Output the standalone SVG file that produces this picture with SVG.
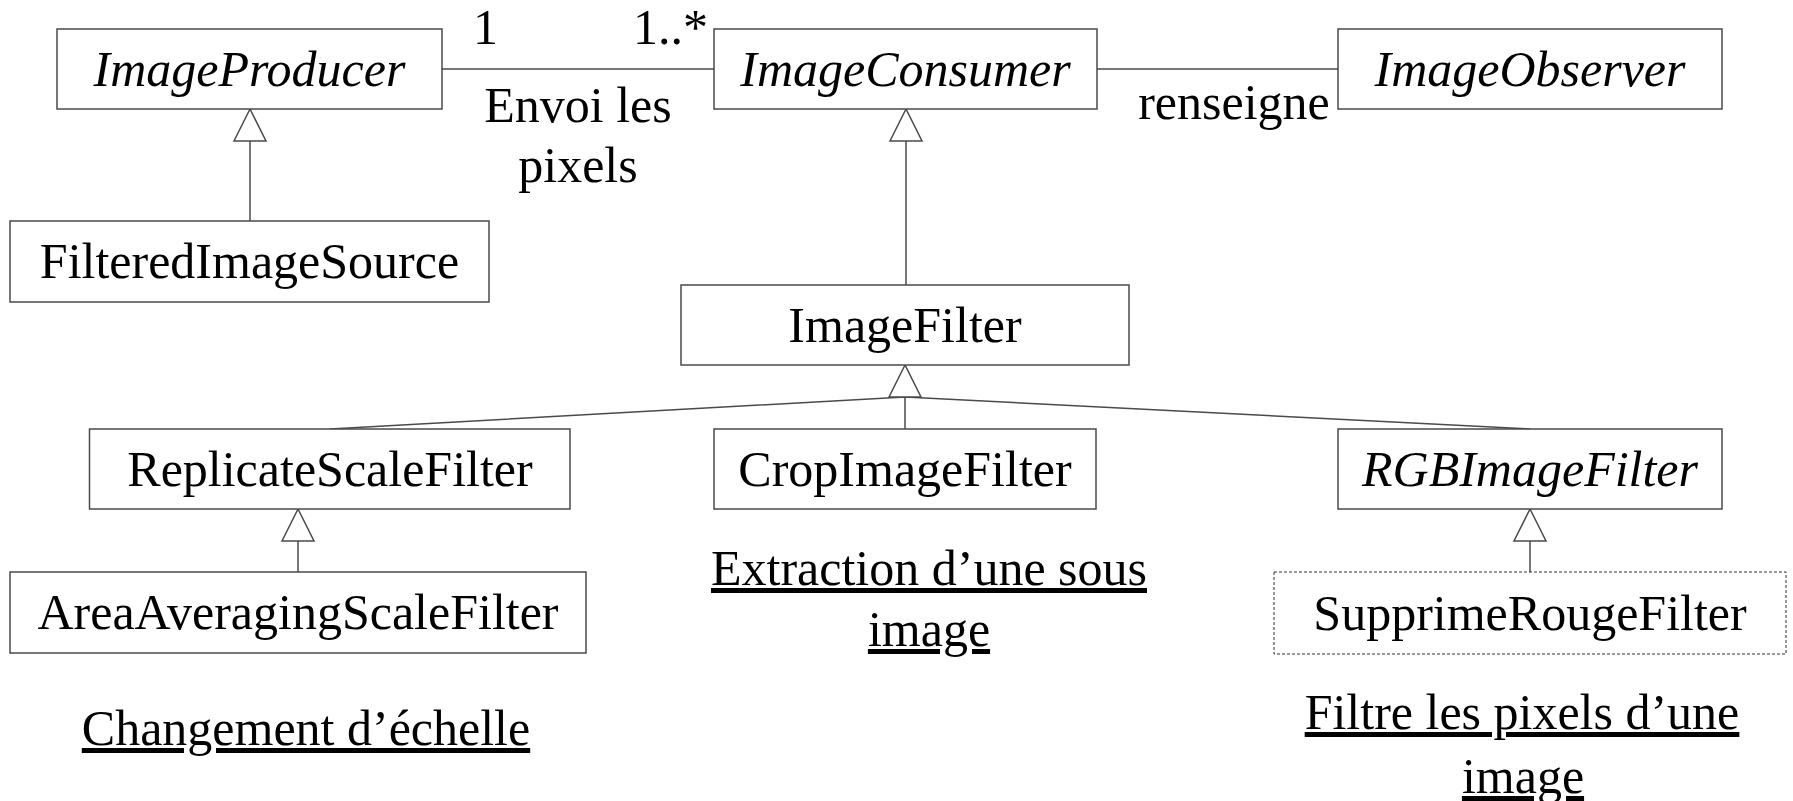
<svg xmlns="http://www.w3.org/2000/svg" width="1793" height="801" viewBox="0 0 1793 801">
  <style>
    text { font-family: "Liberation Serif", "Times New Roman", serif; font-size: 50px; fill: #000; }
    .c { text-anchor: middle; }
    .it { font-style: italic; }
    .u { text-decoration: underline; }
    .box { fill: #fff; stroke: #4a4a4a; stroke-width: 1.5; }
    .dashed { fill: #fff; stroke: #333; stroke-width: 1; stroke-dasharray: 3 2; }
    .ln { fill: none; stroke: #4a4a4a; stroke-width: 1.5; }
    .tri { fill: #fff; stroke: #4a4a4a; stroke-width: 1.5; stroke-linejoin: miter; }
  </style>
  <rect width="1793" height="801" fill="#fff"/>

  <!-- connectors: associations and generalisations -->
  <g id="connectors">
    <line class="ln" x1="442" y1="69" x2="714" y2="69"/>
    <line class="ln" x1="1097" y1="69" x2="1338" y2="69"/>
    <!-- FilteredImageSource -> ImageProducer -->
    <line class="ln" x1="250" y1="221" x2="250" y2="141"/>
    <polygon class="tri" points="250,109 234,141 266,141"/>
    <!-- ImageFilter -> ImageConsumer -->
    <line class="ln" x1="906" y1="285" x2="906" y2="141"/>
    <polygon class="tri" points="906,109 890,141 922,141"/>
    <!-- filters -> ImageFilter -->
    <polyline class="ln" points="330,429 905,397 1530,429"/>
    <line class="ln" x1="905" y1="397" x2="905" y2="429"/>
    <polygon class="tri" points="905,365 889,397 921,397"/>
    <!-- AreaAveragingScaleFilter -> ReplicateScaleFilter -->
    <line class="ln" x1="298" y1="572" x2="298" y2="541"/>
    <polygon class="tri" points="298,509 282,541 314,541"/>
    <!-- SupprimeRougeFilter -> RGBImageFilter -->
    <line class="ln" x1="1530" y1="572" x2="1530" y2="541"/>
    <polygon class="tri" points="1530,509 1514,541 1546,541"/>
  </g>

  <!-- association labels -->
  <g id="labels">
    <text x="473" y="44">1</text>
    <text x="633" y="44">1..*</text>
    <text x="578" y="122" class="c">Envoi les</text>
    <text x="578" y="182" class="c">pixels</text>
    <text x="1234" y="119" class="c">renseigne</text>
  </g>

  <g id="ImageProducer">
    <rect class="box" x="57" y="29" width="385" height="80"/>
    <text x="249.5" y="86" class="c it">ImageProducer</text>
  </g>
  <g id="ImageConsumer">
    <rect class="box" x="714" y="29" width="383" height="80"/>
    <text x="905.5" y="86" class="c it">ImageConsumer</text>
  </g>
  <g id="ImageObserver">
    <rect class="box" x="1338" y="29" width="384" height="80"/>
    <text x="1530" y="86" class="c it">ImageObserver</text>
  </g>
  <g id="FilteredImageSource">
    <rect class="box" x="10" y="221" width="479" height="81"/>
    <text x="249.5" y="278" class="c">FilteredImageSource</text>
  </g>
  <g id="ImageFilter">
    <rect class="box" x="681" y="285" width="448" height="80"/>
    <text x="905" y="342" class="c">ImageFilter</text>
  </g>
  <g id="ReplicateScaleFilter">
    <rect class="box" x="89.5" y="429" width="480.5" height="80"/>
    <text x="330" y="486" class="c">ReplicateScaleFilter</text>
  </g>
  <g id="CropImageFilter">
    <rect class="box" x="714" y="429" width="382" height="80"/>
    <text x="905" y="486" class="c">CropImageFilter</text>
  </g>
  <g id="RGBImageFilter">
    <rect class="box" x="1338" y="429" width="384" height="80"/>
    <text x="1530" y="486" class="c it">RGBImageFilter</text>
  </g>
  <g id="AreaAveragingScaleFilter">
    <rect class="box" x="10" y="572" width="576" height="81"/>
    <text x="298" y="629" class="c">AreaAveragingScaleFilter</text>
  </g>
  <g id="SupprimeRougeFilter">
    <rect class="dashed" x="1274" y="572" width="512" height="82"/>
    <text x="1530" y="630" class="c">SupprimeRougeFilter</text>
  </g>

  <!-- notes -->
  <g id="notes">
    <text x="306" y="745" class="c u">Changement d’échelle</text>
    <text x="929" y="585" class="c u">Extraction d’une sous</text>
    <text x="929" y="646" class="c u">image</text>
    <text x="1522" y="729" class="c u">Filtre les pixels d’une</text>
    <text x="1523" y="793" class="c u">image</text>
  </g>
</svg>
